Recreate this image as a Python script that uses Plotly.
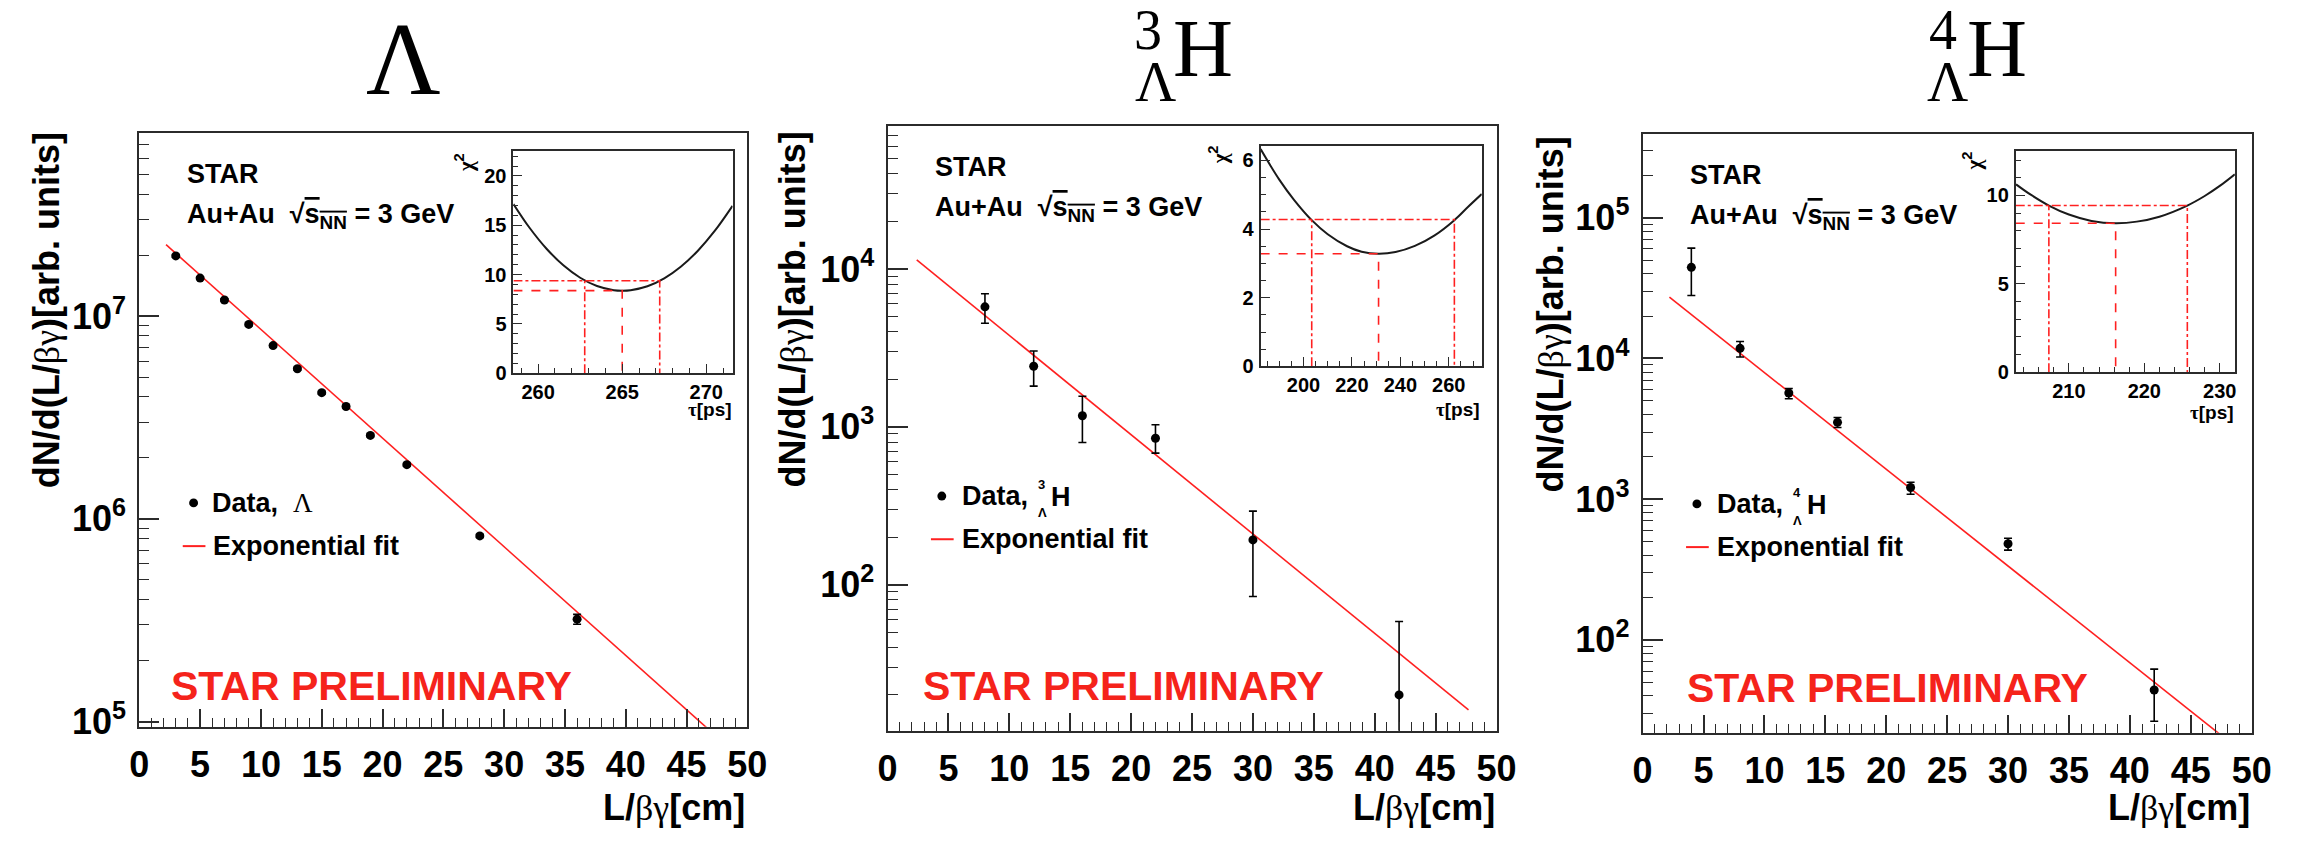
import plotly.graph_objects as go

W, H = 2321, 844

# ---------------- data: Lambda ----------------
lam_x = [3, 5, 7, 9, 11, 13, 15, 17, 19, 22, 28, 36]
lam_y = [1.98e7, 1.54e7, 1.20e7, 9.1e6, 7.15e6, 5.5e6, 4.19e6, 3.58e6, 2.58e6, 1.85e6, 8.24e5, 3.2e5]
lam_err = [3.0e5, 2.3e5, 1.8e5, 1.4e5, 1.1e5, 8.5e4, 6.5e4, 5.5e4, 4.0e4, 3.0e4, 1.5e4, 1.8e4]
lam_fit_x = [2.2, 48.0]
lam_fit_y = [2.25e7, 7.9e4]

# ---------------- data: hypertriton ----------------
h3_x = [8, 12, 16, 22, 30, 42]
h3_y = [5750, 2415, 1175, 846, 192, 20]
h3_err_up = [1210, 605, 385, 184, 100, 38.4]
h3_err_dn = [1220, 605, 380, 165, 108, 19.5]
h3_fit_x = [2.4, 47.7]
h3_fit_y = [1.14e4, 16.1]

# ---------------- data: hyperhydrogen-4 ----------------
h4_x = [4, 8, 12, 16, 22, 30, 42]
h4_y = [44400, 11800, 5680, 3515, 1210, 482, 44]
h4_err_up = [16400, 1400, 440, 285, 108, 46, 18]
h4_err_dn = [16400, 1570, 510, 285, 126, 48, 17.6]
h4_fit_x = [2.2, 47.8]
h4_fit_y = [27300, 20]

# ---------------- chi2 scans (inset panels) ----------------
lam_tau = [258.53, 259.5, 260.5, 261.5, 262.5, 263.5, 264.5, 265.0, 265.5, 266.5, 267.5, 268.5, 269.5, 270.5, 271.56]
lam_chi2 = [17.16, 14.72, 12.62, 10.94, 9.68, 8.84, 8.42, 8.37, 8.42, 8.82, 9.62, 10.82, 12.42, 14.42, 16.97]
lam_tau_best, lam_tau_lo, lam_tau_hi = 265.0, 262.77, 267.23
lam_chi2_min = 8.37

h3_tau = [182.3, 190, 196, 203.4, 210, 218, 224, 231, 238, 246, 254, 262.3, 268, 273.6]
h3_chi2 = [6.33, 5.44, 4.86, 4.26, 3.85, 3.50, 3.34, 3.28, 3.33, 3.51, 3.81, 4.26, 4.65, 5.02]
h3_tau_best, h3_tau_lo, h3_tau_hi = 231.0, 203.4, 262.3
h3_chi2_min = 3.28

h4_tau = [203.0, 205.0, 207.35, 210.0, 213.0, 216.2, 219.0, 222.0, 225.7, 228.0, 230.0, 232.0]
h4_chi2 = [10.63, 10.03, 9.43, 8.92, 8.56, 8.43, 8.52, 8.80, 9.43, 9.97, 10.54, 11.2]
h4_tau_best, h4_tau_lo, h4_tau_hi = 216.2, 207.35, 225.7
h4_chi2_min = 8.43

# ---------------- layout geometry (pixels) ----------------
SANS = "Liberation Sans"
SERIF = "Liberation Serif"
RED = "#f5231b"
FRAME = "#2b2b2b"


def px(x):
    return x / W


def py(y):
    return 1 - y / H


panels = [
    dict(frame=(131, 747, 135, 740), yr=(4.974, 7.905), decades=[5, 6, 7],
         inset=(510, 732, 154, 380), ixr=(258.53, 271.56), iyr=(0, 22.5),
         ixt=[260, 265, 270], ixminor=1, iyt=[0, 5, 10, 15, 20], iyminor=1),
    dict(frame=(889, 1506, 128, 744), yr=(1.074, 4.907), decades=[2, 3, 4],
         inset=(1267, 1491, 149, 373), ixr=(182.3, 273.6), iyr=(0, 6.41),
         ixt=[200, 220, 240, 260], ixminor=5, iyt=[0, 2, 4, 6], iyminor=0.5),
    dict(frame=(1654, 2271, 136, 746), yr=(1.34, 5.598), decades=[2, 3, 4, 5],
         inset=(2032, 2254, 154, 379), ixr=(202.96, 232.0), iyr=(0, 12.5),
         ixt=[210, 220, 230], ixminor=2, iyt=[0, 5, 10], iyminor=1),
]

fig = go.Figure()

main_sets = [
    (lam_x, lam_y, lam_err, lam_err, lam_fit_x, lam_fit_y),
    (h3_x, h3_y, h3_err_up, h3_err_dn, h3_fit_x, h3_fit_y),
    (h4_x, h4_y, h4_err_up, h4_err_dn, h4_fit_x, h4_fit_y),
]
scan_sets = [
    (lam_tau, lam_chi2, lam_tau_best, lam_tau_lo, lam_tau_hi, lam_chi2_min),
    (h3_tau, h3_chi2, h3_tau_best, h3_tau_lo, h3_tau_hi, h3_chi2_min),
    (h4_tau, h4_chi2, h4_tau_best, h4_tau_lo, h4_tau_hi, h4_chi2_min),
]

layout_axes = {}
for i, p in enumerate(panels):
    n = i + 1
    ax_x = "x" if n == 1 else f"x{n}"
    ax_y = "y" if n == 1 else f"y{n}"
    ni = n + 3
    in_x, in_y = f"x{ni}", f"y{ni}"

    xs, ys, eu, ed, fx, fy = main_sets[i]
    fig.add_trace(go.Scatter(x=fx, y=fy, mode="lines", xaxis=ax_x, yaxis=ax_y,
                             line=dict(color="#ff2020", width=1.6), showlegend=False))
    fig.add_trace(go.Scatter(x=xs, y=ys, mode="markers", xaxis=ax_x, yaxis=ax_y,
                             marker=dict(color="black", size=9),
                             error_y=dict(type="data", array=eu, arrayminus=ed, symmetric=False,
                                          color="black", thickness=1.6, width=4),
                             showlegend=False))

    tau, chi2, tb, tlo, thi, cmin = scan_sets[i]
    x0 = p["ixr"][0]
    fig.add_trace(go.Scatter(x=tau, y=chi2, mode="lines", xaxis=in_x, yaxis=in_y,
                             line=dict(color="#1a1a1a", width=2, shape="spline"), showlegend=False))
    # best-fit lifetime at the minimum
    fig.add_trace(go.Scatter(x=[x0, tb, tb], y=[cmin, cmin, 0], mode="lines", xaxis=in_x, yaxis=in_y,
                             line=dict(color="#ff2020", width=1.6, dash="dash"), showlegend=False))
    # one-sigma interval (chi2_min + 1)
    fig.add_trace(go.Scatter(x=[tlo, tlo, None, x0, thi, thi], y=[0, cmin + 1, None, cmin + 1, cmin + 1, 0],
                             mode="lines", xaxis=in_x, yaxis=in_y,
                             line=dict(color="#ff2020", width=1.6, dash="dashdot"), showlegend=False))

    l, r, t, b = p["frame"]
    decs = p["decades"]
    minor_vals = [m * 10 ** d for d in range(decs[0] - 1, decs[-1] + 1) for m in range(2, 10)]
    layout_axes["xaxis" if n == 1 else f"xaxis{n}"] = dict(
        domain=[px(l), px(r)], anchor=ax_y, range=[0, 50], tickmode="linear", tick0=0, dtick=5,
        ticks="inside", ticklen=18, tickwidth=1.5, tickcolor=FRAME,
        minor=dict(dtick=1, ticks="inside", ticklen=9, tickwidth=1.3, tickcolor=FRAME),
        showline=True, mirror=True, linecolor=FRAME, linewidth=2, showgrid=False, zeroline=False,
        tickfont=dict(family=SANS, size=36, color="black", weight="bold"), ticklabelstandoff=5)
    layout_axes["yaxis" if n == 1 else f"yaxis{n}"] = dict(
        domain=[py(b), py(t)], anchor=ax_x, type="log", range=list(p["yr"]),
        tickmode="array", tickvals=[10 ** d for d in decs],
        ticktext=[f"10<sup>{d}</sup>" for d in decs],
        ticks="inside", ticklen=20, tickwidth=1.5, tickcolor=FRAME,
        minor=dict(tickmode="array", tickvals=minor_vals, ticks="inside", ticklen=10,
                   tickwidth=1.3, tickcolor=FRAME),
        showline=True, mirror=True, linecolor=FRAME, linewidth=2, showgrid=False, zeroline=False,
        tickfont=dict(family=SANS, size=36, color="black", weight="bold"), ticklabelstandoff=4)

    il, ir, it, ib = p["inset"]
    layout_axes[f"xaxis{ni}"] = dict(
        domain=[px(il), px(ir)], anchor=in_y, range=list(p["ixr"]), tickmode="array", tickvals=p["ixt"],
        ticks="inside", ticklen=9, tickwidth=1.3, tickcolor=FRAME,
        minor=dict(dtick=p["ixminor"], tick0=0, ticks="inside", ticklen=5, tickwidth=1.1, tickcolor=FRAME),
        showline=True, mirror=True, linecolor=FRAME, linewidth=1.8, showgrid=False, zeroline=False,
        tickfont=dict(family=SANS, size=20, color="black", weight="bold"), ticklabelstandoff=0)
    layout_axes[f"yaxis{ni}"] = dict(
        domain=[py(ib), py(it)], anchor=in_x, range=list(p["iyr"]), tickmode="array", tickvals=p["iyt"],
        ticks="inside", ticklen=9, tickwidth=1.3, tickcolor=FRAME,
        minor=dict(dtick=p["iyminor"], tick0=0, ticks="inside", ticklen=5, tickwidth=1.1, tickcolor=FRAME),
        showline=True, mirror=True, linecolor=FRAME, linewidth=1.8, showgrid=False, zeroline=False,
        tickfont=dict(family=SANS, size=20, color="black", weight="bold"), ticklabelstandoff=1)

annotations = []
shapes = []


def note(text, x, y, size, xanchor="center", yanchor="middle", family=SANS, color="black",
         weight="normal", angle=0):
    annotations.append(dict(text=text, x=px(x), y=py(y), xref="paper", yref="paper",
                            xanchor=xanchor, yanchor=yanchor, showarrow=False, textangle=angle,
                            font=dict(family=family, size=size, color=color, weight=weight)))


# particle titles
note("Λ", 399, 60, 103, family=SERIF)
note("3", 1153, 31, 56, family=SERIF)
note("Λ", 1161, 83, 57, family=SERIF)
note("H", 1209, 49, 83, family=SERIF)
note("4", 1958, 31, 56, family=SERIF)
note("Λ", 1963, 83, 57, family=SERIF)
note("H", 2013, 49, 83, family=SERIF)

bg = "<span style='font-family:Liberation Serif;font-weight:normal'>βγ</span>"
ytitle = f"dN/d(L/{bg})[arb. units]"
xtitle = f"L/{bg}[cm]"
sqrt_s = "√<span style='text-decoration:overline'>s<sub>NN</sub></span>"

ytitle_pos = [(37, 133), (793, 132), (1561, 137)]
star_pp = [(161, 698), (923, 698), (1697, 700)]
scan_labels = [((460, 166), (733, 417)), ((1224, 158), (1491, 417)), ((1988, 164), (2255, 420))]

for i, p in enumerate(panels):
    l, r, t, b = p["frame"]
    yx, yt = ytitle_pos[i]
    note(ytitle, yx, yt, 36, yanchor="top", weight="bold", angle=-90)
    note(xtitle, r, 822, 36, xanchor="right", weight="bold")
    note("STAR", l + 46, t + 42, 27, xanchor="left", weight="bold")
    note(f"Au+Au  {sqrt_s} = 3 GeV", l + 46, t + 85, 27, xanchor="left", weight="bold")
    sx, sy = star_pp[i]
    note("STAR PRELIMINARY", sx, sy, 41, xanchor="left", color=RED, weight="bold")
    (cx, cy), (tx, ty) = scan_labels[i]
    note("<span style='font-family:Liberation Serif'>χ</span><sup>2</sup>", cx, cy, 21,
         weight="bold", angle=-90)
    note("<span style='font-family:Liberation Serif'>τ</span>[ps]", tx, ty, 19,
         xanchor="right", weight="bold")

    # legend keys
    dot_y = t + 377
    line_y = t + 421
    shapes.append(dict(type="circle", xref="paper", yref="paper",
                       x0=px(l + 50.5), x1=px(l + 59.5), y0=py(dot_y + 4.5), y1=py(dot_y - 4.5),
                       fillcolor="black", line=dict(width=0)))
    shapes.append(dict(type="line", xref="paper", yref="paper",
                       x0=px(l + 44), x1=px(l + 67), y0=py(line_y), y1=py(line_y),
                       line=dict(color="#ff2020", width=2)))
    note("Exponential fit", l + 73, line_y, 27, xanchor="left", weight="bold")

# legend labels for the data
note("Data,  <span style='font-family:Liberation Serif;font-weight:normal'>Λ</span>",
     131 + 72, 135 + 377, 27, xanchor="left", weight="bold")
for (l, t, iso) in [(889, 128, "3"), (1654, 136, "4")]:
    note("Data,", l + 73, t + 377, 27, xanchor="left", weight="bold")
    note(iso, l + 156, t + 365, 13, weight="bold")
    note("Λ", l + 157, t + 394, 13, weight="bold")
    note("H", l + 164, t + 378, 27, xanchor="left", weight="bold")

fig.update_layout(
    width=W, height=H, margin=dict(l=0, r=0, t=0, b=0),
    paper_bgcolor="white", plot_bgcolor="white",
    annotations=annotations, shapes=shapes, showlegend=False,
    **layout_axes,
)

fig.write_html("out.html")
